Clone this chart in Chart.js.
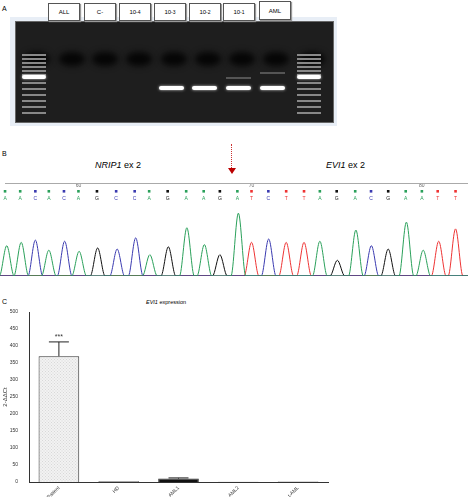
<!DOCTYPE html>
<html><head><meta charset="utf-8">
<script src="https://cdn.jsdelivr.net/npm/chart.js@4"></script>
<style>
body{margin:0;width:468px;height:500px;background:#fff;font-family:"Liberation Sans",Arial,sans-serif;position:relative;overflow:hidden}
.abs{position:absolute}
.lbl{position:absolute;top:3px;height:16px;border:1px solid #555;box-shadow:1px 1px 1px #999;font-size:6px;display:flex;align-items:center;justify-content:center;background:#fff}
.band{position:absolute;height:4px;background:#fff;border-radius:2px;box-shadow:0 0 3px #ccc}
.well{position:absolute;top:30px;width:26px;height:14px;border-radius:50%;background:#050505;filter:blur(3px)}
.lad{position:absolute;height:1.5px;background:#888;filter:blur(.5px)}
</style></head><body>
<div class="abs" style="left:2px;top:5px;font-size:7px">A</div>
<div class="abs" style="left:10px;top:17px;width:327px;height:109px;background:#e8eef6"></div>
<div id="gel" class="abs" style="left:15px;top:21px;width:317px;height:100px;background:#1e1e1e;border:1px solid #666;overflow:hidden"></div>
<div id="lbls"></div>
<div class="abs" style="left:2px;top:150px;font-size:7px">B</div>
<div class="abs" style="left:95px;top:160px;font-size:9px"><i>NRIP1</i> ex 2</div>
<div class="abs" style="left:326px;top:160px;font-size:9px"><i>EVI1</i> ex 2</div>
<div class="abs" style="left:231px;top:144px;height:24px;border-left:1.2px dotted #c33"></div>
<div class="abs" style="left:228px;top:168px;width:0;height:0;border-left:4px solid transparent;border-right:4px solid transparent;border-top:6px solid #b00"></div>
<div class="abs" style="left:5px;top:183px;width:463px;height:1px;background:#aaa"></div>
<div class="abs" style="left:0;top:184px;width:468px;height:92px"><canvas id="chrom"></canvas></div>
<div class="abs" style="left:2px;top:298px;font-size:7px">C</div>
<div class="abs" style="left:146px;top:299px;font-size:5.5px"><i>EVI1</i> expression</div>
<div class="abs" style="left:0;top:305px;width:340px;height:192px"><canvas id="bar"></canvas></div>
<script>
// ---- Panel A data
const laneLabels=["ALL","C-","10<sup>-4</sup>","10<sup>-3</sup>","10<sup>-2</sup>","10<sup>-1</sup>","AML"];
// ---- Panel B data (x positions in trace units, heights)
const baseX=[30,75,120,160,205,248,303,360,415,458,513,568,620,668,720,762,812,865,918,965,1015,1070,1117,1168,1220,1268,1315,1368];
const baseCalls=["A","A","C","A","C","A","G","C","C","A","G","A","A","G","A","T","C","T","T","A","G","A","C","G","A","A","T","T"];
const peaksA=[[35,27],[78,30],[160,23],[250,22],[460,19],[570,43],[622,28],[723,56],[965,31],[1072,41],[1222,48],[1272,23]];
const peaksC=[[120,32],[207,31],[363,24],[418,34],[813,33],[1118,27]];
const peaksG=[[305,25],[515,26],[668,19],[1017,14],[1168,24]];
const peaksT=[[762,30],[865,30],[918,30],[1318,31],[1368,42]];
const posTicks=[[248,"60"],[762,"70"],[1268,"80"]];
// ---- Panel C data
const groups=["Patient","HD","AML1","AML2","t-AML"];
const expr=[370,2,10,0.5,1.5];
const errUp=[42,0,2,0,0];

const lb=document.getElementById('lbls');
const lx=[48,84,119,154,189,223,259];
laneLabels.forEach((t,i)=>{const d=document.createElement('div');d.className='lbl';d.style.left=lx[i]+'px';d.style.width='30px';d.innerHTML=t;if(i==6){d.style.top='1px';d.style.height='17px'}lb.appendChild(d);});
const gel=document.getElementById('gel');
[8,43,76,110,145,179,213,247,283].forEach(x=>{const w=document.createElement('div');w.className='well';w.style.left=x+'px';gel.appendChild(w);});
[[6],[281]].forEach(([x])=>{[32,36,40,44,48,52,60,66,72,78,84,90].forEach(y=>{const l=document.createElement('div');l.className='lad';l.style.left=x+'px';l.style.width='24px';l.style.top=y+'px';gel.appendChild(l);});
 const b=document.createElement('div');b.className='band';b.style.left=x+'px';b.style.width='24px';b.style.top='53px';gel.appendChild(b);});
[143,176,210,244].forEach(x=>{const b=document.createElement('div');b.className='band';b.style.left=x+'px';b.style.width='25px';b.style.top='64px';gel.appendChild(b);});
[[210,55],[244,50]].forEach(([x,y])=>{const l=document.createElement('div');l.className='lad';l.style.left=x+'px';l.style.width='25px';l.style.top=y+'px';l.style.background='#555';gel.appendChild(l);});

function trace(p){const d=[{x:0,y:0}];p.forEach(([x,h])=>{d.push({x:x-22,y:0},{x:x,y:h},{x:x+22,y:0});});d.push({x:1405,y:0});return d;}
const colOf={A:'#2aa05a',C:'#3a3ab0',G:'#111',T:'#e33'};
const lettersPlugin={id:'letters',afterDraw(c){const ctx=c.ctx,xs=c.scales.x;ctx.save();ctx.textAlign='center';ctx.font='5px "Liberation Sans"';
 baseX.forEach((x,i)=>{const px=xs.getPixelForValue(x);ctx.fillStyle=colOf[baseCalls[i]];ctx.fillRect(px-1.3,6,2.6,2.6);ctx.fillText(baseCalls[i],px,16);});
 ctx.fillStyle='#666';posTicks.forEach(([x,t])=>ctx.fillText(t,xs.getPixelForValue(x),3));ctx.restore();}};
new Chart(document.getElementById('chrom'),{type:'line',
 data:{datasets:[[peaksA,'A'],[peaksC,'C'],[peaksG,'G'],[peaksT,'T']].map(([p,k])=>({data:trace(p),borderColor:colOf[k],borderWidth:1,pointRadius:0,cubicInterpolationMode:'monotone',fill:false}))},
 options:{responsive:true,maintainAspectRatio:false,animation:false,layout:{padding:0},plugins:{legend:{display:false},tooltip:{enabled:false}},
  scales:{x:{type:'linear',min:15,max:1405,display:false},y:{min:0,max:82,display:false}}},plugins:[lettersPlugin]});

const patCanvas=document.createElement('canvas');patCanvas.width=3;patCanvas.height=3;const pc=patCanvas.getContext('2d');pc.fillStyle='#f2f2f2';pc.fillRect(0,0,3,3);pc.fillStyle='#d8d8d8';pc.fillRect(0,0,1,1);pc.fillRect(1.5,1.5,1,1);
const errPlugin={id:'err',afterDatasetsDraw(c){const ctx=c.ctx,ys=c.scales.y,m=c.getDatasetMeta(0);ctx.save();ctx.strokeStyle='#222';ctx.lineWidth=1;
 expr.forEach((v,i)=>{if(!errUp[i])return;const x=m.data[i].x,y0=ys.getPixelForValue(v),y1=ys.getPixelForValue(v+errUp[i]);ctx.beginPath();ctx.moveTo(x,y0);ctx.lineTo(x,y1);ctx.moveTo(x-10,y1);ctx.lineTo(x+10,y1);ctx.stroke();});
 const x=m.data[0].x;ctx.fillStyle='#333';ctx.font='7px "Liberation Sans"';ctx.textAlign='center';ctx.fillText('***',x,ys.getPixelForValue(expr[0]+errUp[0])-3);ctx.restore();}};
new Chart(document.getElementById('bar'),{type:'bar',
 data:{labels:groups,datasets:[{data:expr,backgroundColor:[ctxPat(),'#888','#111','#888','#888'],borderColor:'#333',borderWidth:1,barPercentage:0.68,categoryPercentage:1}]},
 options:{responsive:true,maintainAspectRatio:false,animation:false,layout:{padding:{left:0,right:12,top:7,bottom:0}},plugins:{legend:{display:false},tooltip:{enabled:false}},
  scales:{x:{afterFit(s){s.height=15},grid:{display:false,drawTicks:true,tickLength:3},border:{color:'#333'},ticks:{padding:0,color:'#333',font:{size:5},maxRotation:45,minRotation:45}},
   y:{min:0,max:500,afterFit(s){s.width=29},grid:{display:false},border:{color:'#333'},ticks:{stepSize:50,color:'#333',font:{size:5}},
    title:{display:true,text:'2-ΔΔCt',color:'#333',font:{size:6},padding:2}}}},plugins:[errPlugin]});
function ctxPat(){return document.createElement('canvas').getContext('2d').createPattern(patCanvas,'repeat');}
</script></body></html>
